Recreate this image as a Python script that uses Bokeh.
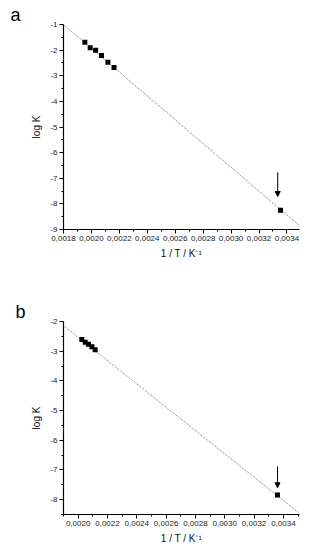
from bokeh.plotting import figure
from bokeh.layouts import column
from bokeh.models import (Range1d, FixedTicker, CustomJSTickFormatter, Arrow,
                          NormalHead, ColumnDataSource)
from bokeh.embed import file_html
from bokeh.resources import INLINE

# ---------------- data: panel a ----------------
a_inv_t = [0.001953, 0.001991, 0.002030, 0.002072, 0.002118, 0.002162, 0.003354]
a_logk = [-1.69, -1.91, -2.00, -2.21, -2.47, -2.68, -8.25]
a_fit_x = [0.0018, 0.00349]
a_fit_y = [-1.0, -8.85]
a_arrow_x = 0.003334
a_arrow_y = [-6.77, -7.71]
a_xticks = [0.0018, 0.0020, 0.0022, 0.0024, 0.0026, 0.0028, 0.0030, 0.0032, 0.0034]
a_xminor = [0.0019, 0.0021, 0.0023, 0.0025, 0.0027, 0.0029, 0.0031, 0.0033]
a_yticks = [-9, -8, -7, -6, -5, -4, -3, -2, -1]
a_yminor = [-8.5, -7.5, -6.5, -5.5, -4.5, -3.5, -2.5, -1.5]

# ---------------- data: panel b ----------------
b_inv_t = [0.002025, 0.002048, 0.002070, 0.002094, 0.002116, 0.003360]
b_logk = [-2.61, -2.70, -2.77, -2.85, -2.95, -7.84]
b_fit_x = [0.0019, 0.0035]
b_fit_y = [-2.14, -8.42]
b_arrow_x = 0.003360
b_arrow_y = [-6.88, -7.60]
b_xticks = [0.0020, 0.0022, 0.0024, 0.0026, 0.0028, 0.0030, 0.0032, 0.0034]
b_xminor = [0.0019, 0.0021, 0.0023, 0.0025, 0.0027, 0.0029, 0.0031, 0.0033, 0.0035]
b_yticks = [-8, -7, -6, -5, -4, -3, -2]
b_yminor = [-8.5, -7.5, -6.5, -5.5, -4.5, -3.5, -2.5]

FONT = "Liberation Sans"


def make_panel(letter, xs, ys, fx, fy, arx, ary, xt, xm, yt, ym,
               xr, yr, width, height, borders, letter_offset):
    p = figure(width=width, height=height, output_backend="svg",
               toolbar_location=None,
               x_range=Range1d(*xr), y_range=Range1d(*yr),
               min_border_left=borders[0], min_border_right=borders[1],
               min_border_top=borders[2], min_border_bottom=borders[3])
    p.outline_line_color = None
    p.grid.visible = False
    p.background_fill_color = "white"
    p.border_fill_color = "white"

    p.title.text = letter
    p.title.text_font = FONT
    p.title.text_font_size = "18px"
    p.title.text_font_style = "normal"
    p.title.text_color = "black"
    p.title.align = "left"
    p.title.offset = letter_offset
    p.title.standoff = 0

    p.line(fx, fy, line_color="#777777", line_width=1, line_dash="1 1")
    src = ColumnDataSource(dict(x=xs, y=ys))
    p.scatter("x", "y", source=src, marker="square", size=5,
              fill_color="black", line_color=None)
    p.add_layout(Arrow(end=NormalHead(size=5, fill_color="black",
                                      line_color="black", line_width=1),
                       x_start=arx, y_start=ary[0], x_end=arx, y_end=ary[1],
                       line_color="black", line_width=1))

    p.xaxis.ticker = FixedTicker(ticks=xt, minor_ticks=xm)
    p.yaxis.ticker = FixedTicker(ticks=yt, minor_ticks=ym)
    p.xaxis.formatter = CustomJSTickFormatter(
        code="return tick.toFixed(4).replace('.', ',');")
    p.yaxis.formatter = CustomJSTickFormatter(code="return tick.toFixed(0);")
    p.xaxis.axis_label = "1 / T / K\u207b\u00b9"
    p.yaxis.axis_label = "log K"
    for ax in (p.xaxis, p.yaxis):
        ax.axis_line_color = "black"
        ax.axis_line_width = 1.2
        ax.major_tick_line_color = "black"
        ax.minor_tick_line_color = "black"
        ax.major_tick_out = 4
        ax.major_tick_in = 0
        ax.minor_tick_out = 2
        ax.minor_tick_in = 0
        ax.major_label_text_font = FONT
        ax.major_label_text_font_size = "8px"
        ax.major_label_text_color = "#222222"
        ax.axis_label_text_font = FONT
        ax.axis_label_text_font_size = "10px"
        ax.axis_label_text_font_style = "normal"
        ax.axis_label_text_color = "#111111"
        ax.major_label_standoff = 2
    p.xaxis.axis_label_standoff = 4
    p.yaxis.axis_label_standoff = 5
    return p


pa = make_panel("a", a_inv_t, a_logk, a_fit_x, a_fit_y, a_arrow_x, a_arrow_y,
                a_xticks, a_xminor, a_yticks, a_yminor,
                (0.0018, 0.00349), (-9, -1), 316, 276,
                (57, 9, 24, 47), -53)
pb = make_panel("b", b_inv_t, b_logk, b_fit_x, b_fit_y, b_arrow_x, b_arrow_y,
                b_xticks, b_xminor, b_yticks, b_yminor,
                (0.0019, 0.00351), (-8.5, -2), 316, 274,
                (63, 17, 45, 36), -48)

layout = column(pa, pb, spacing=0)
open("out.html", "w").write(file_html(layout, INLINE))
